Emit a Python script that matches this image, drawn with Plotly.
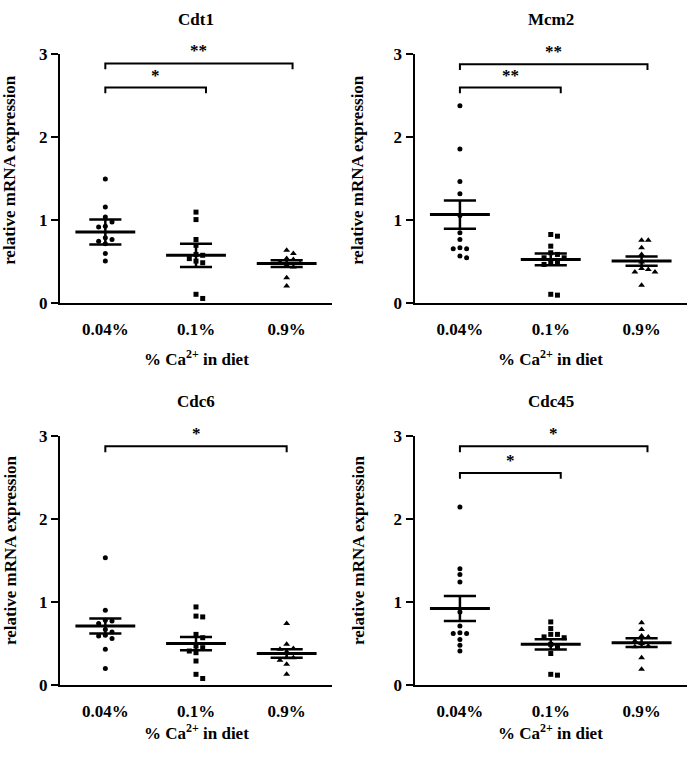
import plotly.graph_objects as go

# ---------------- data ----------------
categories = ["0.04%", "0.1%", "0.9%"]
panel_titles = ["Cdt1", "Mcm2", "Cdc6", "Cdc45"]

cdt1_points = [
    [1.50, 1.16, 1.04, 0.98, 0.93, 0.92, 0.79, 0.77, 0.75, 0.72, 0.60, 0.51],
    [1.10, 1.01, 0.77, 0.70, 0.59, 0.58, 0.54, 0.51, 0.49, 0.11, 0.06],
    [0.64, 0.60, 0.54, 0.53, 0.50, 0.48, 0.46, 0.44, 0.31, 0.21],
]
cdt1_mean = [0.86, 0.58, 0.48]
cdt1_sem = [0.15, 0.14, 0.04]

mcm2_points = [
    [2.38, 1.86, 1.47, 1.32, 1.06, 0.85, 0.77, 0.67, 0.66, 0.66, 0.57, 0.55],
    [0.83, 0.81, 0.69, 0.61, 0.59, 0.55, 0.55, 0.50, 0.49, 0.47, 0.11, 0.10],
    [0.76, 0.76, 0.67, 0.59, 0.50, 0.42, 0.41, 0.38, 0.38, 0.22],
]
mcm2_mean = [1.07, 0.53, 0.51]
mcm2_sem = [0.17, 0.07, 0.055]

cdc6_points = [
    [1.53, 0.90, 0.78, 0.77, 0.74, 0.67, 0.64, 0.60, 0.59, 0.56, 0.43, 0.20],
    [0.94, 0.83, 0.82, 0.61, 0.57, 0.47, 0.45, 0.41, 0.39, 0.29, 0.13, 0.08],
    [0.74, 0.49, 0.44, 0.43, 0.40, 0.33, 0.33, 0.30, 0.25, 0.13],
]
cdc6_mean = [0.71, 0.50, 0.38]
cdc6_sem = [0.09, 0.08, 0.05]

cdc45_points = [
    [2.14, 1.40, 1.33, 1.24, 0.88, 0.71, 0.63, 0.62, 0.62, 0.55, 0.48, 0.41],
    [0.76, 0.68, 0.61, 0.61, 0.58, 0.57, 0.49, 0.46, 0.38, 0.13, 0.12],
    [0.75, 0.67, 0.59, 0.58, 0.53, 0.50, 0.47, 0.46, 0.33, 0.19],
]
cdc45_mean = [0.92, 0.49, 0.51]
cdc45_sem = [0.15, 0.063, 0.053]

# significance brackets: (group a, group b, level, label)
cdt1_sig = [(0, 1, 2.60, "*"), (0, 2, 2.89, "**")]
mcm2_sig = [(0, 1, 2.60, "**"), (0, 2, 2.88, "**")]
cdc6_sig = [(0, 2, 2.87, "*")]
cdc45_sig = [(0, 1, 2.55, "*"), (0, 2, 2.87, "*")]

y_ticks = [0, 1, 2, 3]

# ---------------- styling / layout ----------------
FONT = "Liberation Serif"
FS = 17
W, H = 689, 759
px_domains_x = [(60, 332), (414.5, 687), (60, 332), (414.5, 687)]
px_domains_y = [(46.5, 302), (46.5, 302), (437.5, 693.5), (437.5, 693.5)]
title_y_px = [10.5, 10.5, 403, 403]
ylabel_x_px = [10, 358, 10, 358]
ylabel_y_px = [165, 165, 555, 555]
xtitle_y_px = [358, 358, 741.5, 741.5]
right_pad = [{1: 0.11, 2: 0.065}, {1: 0.11, 2: 0.065}, {1: 0.11, 2: 0.0}, {1: 0.11, 2: 0.065}]
symbols = ["circle", "square", "triangle-up"]
msizes = [5, 5, 6]
X_RANGE = [-0.5, 2.5]
Y_RANGE = [0, 3]

panels = [
    (cdt1_points, cdt1_mean, cdt1_sem, cdt1_sig),
    (mcm2_points, mcm2_mean, mcm2_sem, mcm2_sig),
    (cdc6_points, cdc6_mean, cdc6_sem, cdc6_sig),
    (cdc45_points, cdc45_mean, cdc45_sem, cdc45_sig),
]


def swarm_offsets(vals, px_per_unit_y, px_per_cat, step_px=6.7, min_px=5.8):
    """Greedy beeswarm: returns x offsets (category units) avoiding overlap."""
    placed = []
    offs = [0.0] * len(vals)
    order = sorted(range(len(vals)), key=lambda k: -vals[k])
    for k in order:
        ypx = vals[k] * px_per_unit_y
        n = 0
        while True:
            cands = [0] if n == 0 else [n, -n]
            found = None
            for c in cands:
                xpx = c * step_px
                ok = all(abs(xpx - px0) >= min_px or abs(ypx - py0) >= min_px
                         for px0, py0 in placed)
                if ok:
                    found = xpx
                    break
            if found is not None:
                placed.append((found, ypx))
                offs[k] = found / px_per_cat
                break
            n += 1
    return offs


fig = go.Figure()
annotations = []
layout_axes = {}
bold = dict(family=FONT, size=FS, color="black", weight="bold")

for p, (pts, means, sems, sigs) in enumerate(panels):
    sfx = "" if p == 0 else str(p + 1)
    xa, ya = "x" + sfx, "y" + sfx
    (x0px, x1px), (y0px, y1px) = px_domains_x[p], px_domains_y[p]
    px_per_cat = (x1px - x0px) / (X_RANGE[1] - X_RANGE[0])
    px_per_unit = (y1px - y0px) / (Y_RANGE[1] - Y_RANGE[0])

    layout_axes["xaxis" + sfx] = dict(
        domain=[x0px / W, x1px / W], range=X_RANGE, anchor=ya,
        tickvals=[0, 1, 2], ticktext=categories, ticks="",
        showline=True, linecolor="black", linewidth=2, showgrid=False,
        zeroline=False, ticklabelstandoff=9, tickfont=bold,
    )
    layout_axes["yaxis" + sfx] = dict(
        domain=[1 - y1px / H, 1 - y0px / H], range=Y_RANGE, anchor=xa,
        tickvals=y_ticks, ticks="outside", ticklen=7, tickwidth=2,
        tickcolor="black", showline=True, linecolor="black", linewidth=2,
        showgrid=False, zeroline=False, tickfont=bold,
    )

    for g in range(3):
        offs = swarm_offsets(pts[g], px_per_unit, px_per_cat)
        fig.add_trace(go.Scatter(
            x=[g + o for o in offs], y=pts[g], mode="markers", xaxis=xa, yaxis=ya,
            marker=dict(symbol=symbols[g], size=msizes[g], color="black",
                        line=dict(width=0)),
            cliponaxis=False, showlegend=False, hoverinfo="y",
        ))
        m, s = means[g], sems[g]
        fig.add_trace(go.Scatter(
            x=[g - 0.33, g + 0.33], y=[m, m], mode="lines", xaxis=xa, yaxis=ya,
            line=dict(color="black", width=3), showlegend=False, hoverinfo="skip"))
        fig.add_trace(go.Scatter(
            x=[g - 0.177, g + 0.177, None, g, g, None, g - 0.177, g + 0.177],
            y=[m + s, m + s, None, m + s, m - s, None, m - s, m - s],
            mode="lines", xaxis=xa, yaxis=ya,
            line=dict(color="black", width=2.5), showlegend=False, hoverinfo="skip"))

    for (a, b, lvl, lab) in sigs:
        xr = b + right_pad[p][b]
        fig.add_trace(go.Scatter(
            x=[a, a, xr, xr], y=[lvl - 0.07, lvl, lvl, lvl - 0.07], mode="lines",
            xaxis=xa, yaxis=ya, line=dict(color="black", width=2),
            cliponaxis=False, showlegend=False, hoverinfo="skip"))
        annotations.append(dict(
            x=(a + xr) / 2, y=lvl, xref=xa, yref=ya, text=lab, showarrow=False,
            xanchor="center", yanchor="bottom", yshift=1, font=bold))

    cx = (x0px + x1px) / 2 / W
    annotations.append(dict(
        x=cx, y=1 - title_y_px[p] / H, xref="paper", yref="paper",
        text=panel_titles[p], showarrow=False, xanchor="center", yanchor="middle",
        font=bold))
    annotations.append(dict(
        x=ylabel_x_px[p] / W, y=1 - ylabel_y_px[p] / H, xref="paper", yref="paper",
        text="relative mRNA expression", textangle=-90, showarrow=False,
        xanchor="center", yanchor="middle", font=bold))
    annotations.append(dict(
        x=cx, y=1 - xtitle_y_px[p] / H, xref="paper", yref="paper",
        text="% Ca<sup>2+</sup> in diet", showarrow=False,
        xanchor="center", yanchor="middle", font=bold))

fig.update_layout(
    width=W, height=H, margin=dict(l=0, r=0, t=0, b=0),
    paper_bgcolor="white", plot_bgcolor="white",
    annotations=annotations, showlegend=False, **layout_axes,
)
fig.write_html(
    "out.html",
    config={"displayModeBar": False},
    post_script="document.body.style.margin='0';document.body.style.overflow='hidden';",
)
